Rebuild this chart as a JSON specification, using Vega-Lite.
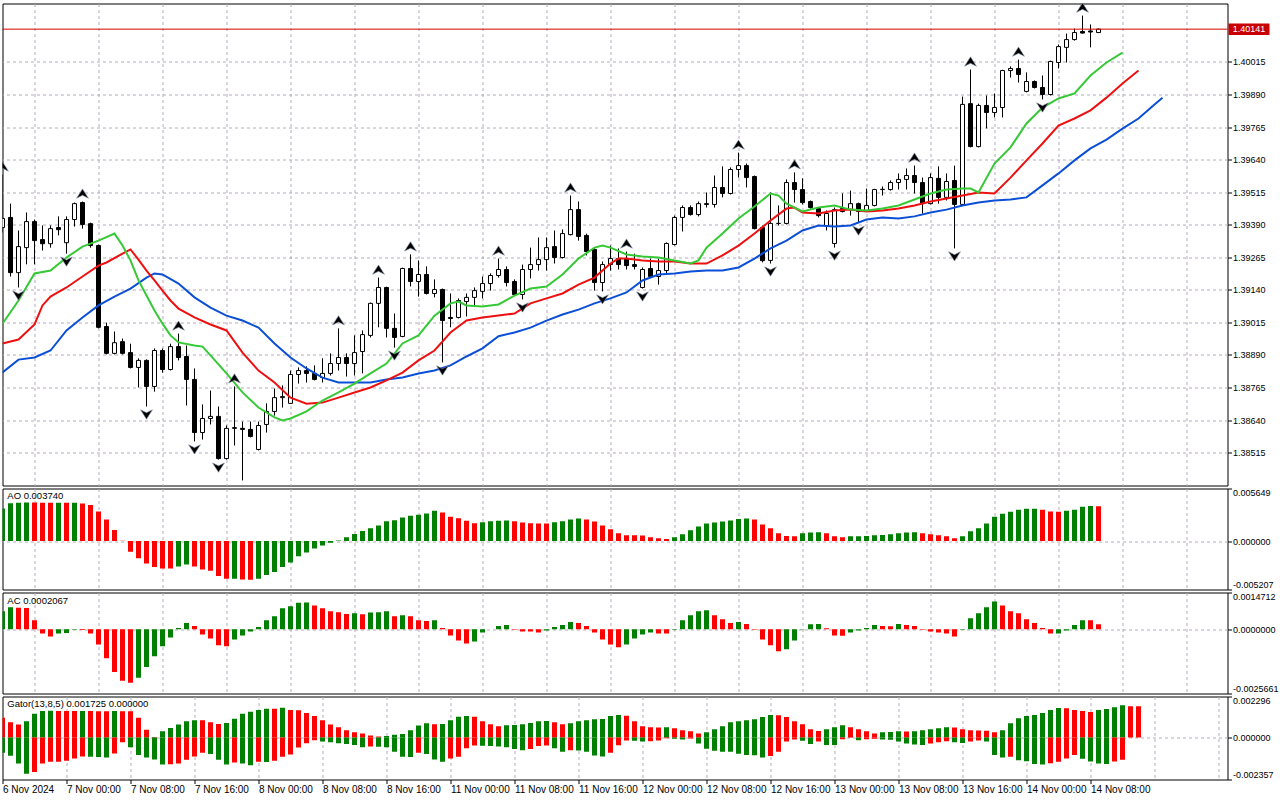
{
  "$schema": "https://vega.github.io/schema/vega-lite/v6.json",
  "background": "white",
  "padding": {"left": 1.5, "top": 2.5, "right": 0, "bottom": 0},
  "spacing": 1,
  "config": {
    "view": {"stroke": "black", "strokeWidth": 1},
    "axis": {
      "labelFont": "Liberation Sans",
      "labelFontSize": 9,
      "labelColor": "black",
      "tickColor": "black",
      "gridColor": "#b4aabe",
      "gridDash": [3, 3],
      "gridWidth": 1,
      "domain": false
    },
    "text": {"font": "Liberation Sans"}
  },
  "datasets": {
    "bars": [
      {"i":0,"o":1.39379,"h":1.39583,"l":1.3936,"c":1.39414,"ao":0.0035,"ac":0.0007205},
      {"i":1,"o":1.39418,"h":1.39471,"l":1.39191,"c":1.39206,"ao":0.00406,"ac":0.0008777},
      {"i":2,"o":1.39206,"h":1.39368,"l":1.39149,"c":1.39306,"ao":0.004113,"ac":0.0008646},
      {"i":3,"o":1.39302,"h":1.39437,"l":1.39238,"c":1.39402,"ao":0.004148,"ac":0.0008515},
      {"i":4,"o":1.39402,"h":1.3941,"l":1.39238,"c":1.39329,"ao":0.004137,"ac":0.0003668},
      {"i":5,"o":1.39333,"h":1.39387,"l":1.39291,"c":1.39317,"ao":0.00413,"ac":-0.0001703},
      {"i":6,"o":1.39317,"h":1.39387,"l":1.39302,"c":1.39375,"ao":0.004116,"ac":-0.0002882},
      {"i":7,"o":1.39379,"h":1.39422,"l":1.39349,"c":1.39371,"ao":0.004127,"ac":-0.0001703},
      {"i":8,"o":1.39321,"h":1.39422,"l":1.39279,"c":1.3941,"ao":0.00412,"ac":-0.0001441},
      {"i":9,"o":1.3941,"h":1.39475,"l":1.39383,"c":1.39471,"ao":0.00413,"ac":-0.0000131},
      {"i":10,"o":1.39475,"h":1.39479,"l":1.39375,"c":1.39391,"ao":0.004025,"ac":-0.0000262},
      {"i":11,"o":1.39394,"h":1.39398,"l":1.39302,"c":1.3931,"ao":0.003885,"ac":-0.0001703},
      {"i":12,"o":1.3931,"h":1.39314,"l":1.38992,"c":1.38996,"ao":0.003185,"ac":-0.0006026},
      {"i":13,"o":1.38999,"h":1.39014,"l":1.38892,"c":1.38896,"ao":0.00231,"ac":-0.0011528},
      {"i":14,"o":1.38896,"h":1.3898,"l":1.38892,"c":1.38937,"ao":0.00119,"ac":-0.001703},
      {"i":15,"o":1.38941,"h":1.38953,"l":1.38892,"c":1.38896,"ao":0.000035,"ac":-0.0020567},
      {"i":16,"o":1.38899,"h":1.38933,"l":1.38838,"c":1.38842,"ao":-0.001155,"ac":-0.0021353},
      {"i":17,"o":1.38842,"h":1.38877,"l":1.38765,"c":1.38869,"ao":-0.001855,"ac":-0.0019388},
      {"i":18,"o":1.38869,"h":1.38873,"l":1.38692,"c":1.38769,"ao":-0.002415,"ac":-0.0015065},
      {"i":19,"o":1.38769,"h":1.38915,"l":1.38749,"c":1.38907,"ao":-0.0028,"ac":-0.0010742},
      {"i":20,"o":1.38907,"h":1.38915,"l":1.38822,"c":1.38834,"ao":-0.00294,"ac":-0.0006812},
      {"i":21,"o":1.38834,"h":1.38933,"l":1.3883,"c":1.38922,"ao":-0.002958,"ac":-0.0003275},
      {"i":22,"o":1.38922,"h":1.38972,"l":1.38869,"c":1.3888,"ao":-0.00273,"ac":0.0000524},
      {"i":23,"o":1.38884,"h":1.38926,"l":1.38696,"c":1.38796,"ao":-0.00252,"ac":0.0002489},
      {"i":24,"o":1.38796,"h":1.38838,"l":1.38558,"c":1.38592,"ao":-0.00273,"ac":0.000131},
      {"i":25,"o":1.38592,"h":1.387,"l":1.38565,"c":1.38646,"ao":-0.003045,"ac":-0.0002096},
      {"i":26,"o":1.38646,"h":1.38753,"l":1.38623,"c":1.38654,"ao":-0.003185,"ac":-0.0003668},
      {"i":27,"o":1.38654,"h":1.38692,"l":1.38488,"c":1.38492,"ao":-0.003745,"ac":-0.0006419},
      {"i":28,"o":1.38492,"h":1.38619,"l":1.38488,"c":1.38608,"ao":-0.00406,"ac":-0.0006812},
      {"i":29,"o":1.38608,"h":1.38769,"l":1.38542,"c":1.38611,"ao":-0.004043,"ac":-0.0004061},
      {"i":30,"o":1.38608,"h":1.38634,"l":1.38408,"c":1.38604,"ao":-0.00413,"ac":-0.0002489},
      {"i":31,"o":1.38604,"h":1.38634,"l":1.38573,"c":1.38577,"ao":-0.004165,"ac":-0.0000917},
      {"i":32,"o":1.38527,"h":1.38634,"l":1.38523,"c":1.38619,"ao":-0.00406,"ac":0.0000917},
      {"i":33,"o":1.38623,"h":1.38704,"l":1.38592,"c":1.38673,"ao":-0.00364,"ac":0.0003668},
      {"i":34,"o":1.38673,"h":1.38761,"l":1.38657,"c":1.38726,"ao":-0.003325,"ac":0.000524},
      {"i":35,"o":1.38726,"h":1.38773,"l":1.38688,"c":1.3873,"ao":-0.0028,"ac":0.0008384},
      {"i":36,"o":1.38704,"h":1.3883,"l":1.38704,"c":1.38815,"ao":-0.00231,"ac":0.000917},
      {"i":37,"o":1.38815,"h":1.38842,"l":1.3878,"c":1.3883,"ao":-0.001645,"ac":0.0010611},
      {"i":38,"o":1.3883,"h":1.38846,"l":1.38784,"c":1.38819,"ao":-0.001225,"ac":0.0010742},
      {"i":39,"o":1.38819,"h":1.3885,"l":1.38792,"c":1.38796,"ao":-0.000805,"ac":0.0009563},
      {"i":40,"o":1.38803,"h":1.38877,"l":1.38784,"c":1.38819,"ao":-0.00049,"ac":0.0008384},
      {"i":41,"o":1.38819,"h":1.38896,"l":1.38811,"c":1.38857,"ao":-0.000175,"ac":0.0007205},
      {"i":42,"o":1.38857,"h":1.38992,"l":1.3883,"c":1.3888,"ao":0.00007,"ac":0.0006812},
      {"i":43,"o":1.3888,"h":1.38896,"l":1.38807,"c":1.38857,"ao":0.00042,"ac":0.0006157},
      {"i":44,"o":1.38857,"h":1.38965,"l":1.38811,"c":1.38899,"ao":0.00077,"ac":0.0006419},
      {"i":45,"o":1.38903,"h":1.38984,"l":1.38819,"c":1.38968,"ao":0.001085,"ac":0.0006026},
      {"i":46,"o":1.38965,"h":1.39091,"l":1.38957,"c":1.39088,"ao":0.001365,"ac":0.0006681},
      {"i":47,"o":1.39088,"h":1.39187,"l":1.38996,"c":1.39149,"ao":0.00168,"ac":0.0006812},
      {"i":48,"o":1.39149,"h":1.39152,"l":1.38957,"c":1.38992,"ao":0.002135,"ac":0.0007205},
      {"i":49,"o":1.38992,"h":1.39049,"l":1.38918,"c":1.38957,"ao":0.00224,"ac":0.000524},
      {"i":50,"o":1.38961,"h":1.39225,"l":1.38958,"c":1.39222,"ao":0.00252,"ac":0.0005633},
      {"i":51,"o":1.39222,"h":1.39276,"l":1.39153,"c":1.39172,"ao":0.00273,"ac":0.000524},
      {"i":52,"o":1.39172,"h":1.39253,"l":1.39114,"c":1.39199,"ao":0.002835,"ac":0.0003668},
      {"i":53,"o":1.39199,"h":1.3923,"l":1.39122,"c":1.39126,"ao":0.002975,"ac":0.0003275},
      {"i":54,"o":1.39126,"h":1.3918,"l":1.39111,"c":1.39141,"ao":0.003255,"ac":0.0003668},
      {"i":55,"o":1.39141,"h":1.39145,"l":1.38861,"c":1.39022,"ao":0.00308,"ac":0.0000524},
      {"i":56,"o":1.39034,"h":1.39126,"l":1.38996,"c":1.3903,"ao":0.002625,"ac":-0.0002489},
      {"i":57,"o":1.39034,"h":1.39107,"l":1.3903,"c":1.39099,"ao":0.00245,"ac":-0.0004454},
      {"i":58,"o":1.39095,"h":1.39126,"l":1.39038,"c":1.39111,"ao":0.00217,"ac":-0.0005633},
      {"i":59,"o":1.39111,"h":1.39149,"l":1.3908,"c":1.39137,"ao":0.001925,"ac":-0.0004847},
      {"i":60,"o":1.39134,"h":1.39191,"l":1.39107,"c":1.39164,"ao":0.00203,"ac":-0.000131},
      {"i":61,"o":1.39164,"h":1.39203,"l":1.39137,"c":1.39195,"ao":0.002135,"ac":0.0000066},
      {"i":62,"o":1.39195,"h":1.3926,"l":1.39187,"c":1.39218,"ao":0.00217,"ac":0.000131},
      {"i":63,"o":1.39218,"h":1.3923,"l":1.39153,"c":1.39168,"ao":0.002205,"ac":0.0001703},
      {"i":64,"o":1.39172,"h":1.3918,"l":1.39118,"c":1.39122,"ao":0.002135,"ac":-0.0000131},
      {"i":65,"o":1.39122,"h":1.39237,"l":1.39103,"c":1.39218,"ao":0.001995,"ac":-0.0000852},
      {"i":66,"o":1.39218,"h":1.39302,"l":1.39184,"c":1.39237,"ao":0.001908,"ac":-0.0000917},
      {"i":67,"o":1.39237,"h":1.39341,"l":1.39214,"c":1.39256,"ao":0.001897,"ac":-0.000131},
      {"i":68,"o":1.39256,"h":1.39341,"l":1.39214,"c":1.39302,"ao":0.00189,"ac":-0.0000524},
      {"i":69,"o":1.39306,"h":1.39368,"l":1.39241,"c":1.39264,"ao":0.00203,"ac":0.0000917},
      {"i":70,"o":1.39264,"h":1.39372,"l":1.3926,"c":1.39356,"ao":0.002135,"ac":0.0001703},
      {"i":71,"o":1.39352,"h":1.39502,"l":1.39349,"c":1.39448,"ao":0.00231,"ac":0.0002882},
      {"i":72,"o":1.39448,"h":1.39479,"l":1.39329,"c":1.39345,"ao":0.002415,"ac":0.0002489},
      {"i":73,"o":1.39349,"h":1.39356,"l":1.39272,"c":1.39287,"ao":0.00231,"ac":0.000131},
      {"i":74,"o":1.39295,"h":1.39302,"l":1.39137,"c":1.39168,"ao":0.0021,"ac":-0.000131},
      {"i":75,"o":1.39168,"h":1.39249,"l":1.39134,"c":1.39237,"ao":0.00168,"ac":-0.0004061},
      {"i":76,"o":1.39237,"h":1.3931,"l":1.39214,"c":1.3926,"ao":0.00126,"ac":-0.0006026},
      {"i":77,"o":1.3926,"h":1.39299,"l":1.39218,"c":1.39237,"ao":0.00084,"ac":-0.0007205},
      {"i":78,"o":1.3926,"h":1.39287,"l":1.39218,"c":1.39233,"ao":0.00063,"ac":-0.0006026},
      {"i":79,"o":1.39237,"h":1.39279,"l":1.39218,"c":1.3923,"ao":0.000616,"ac":-0.0003668},
      {"i":80,"o":1.39149,"h":1.39226,"l":1.39145,"c":1.39218,"ao":0.000595,"ac":-0.0002096},
      {"i":81,"o":1.39222,"h":1.3926,"l":1.39187,"c":1.39191,"ao":0.00042,"ac":-0.000131},
      {"i":82,"o":1.39191,"h":1.3926,"l":1.3916,"c":1.39214,"ao":0.000315,"ac":-0.0001638},
      {"i":83,"o":1.39214,"h":1.39322,"l":1.39203,"c":1.39318,"ao":0.00021,"ac":-0.0001703},
      {"i":84,"o":1.39314,"h":1.39425,"l":1.3931,"c":1.39418,"ao":0.00042,"ac":-0.0000131},
      {"i":85,"o":1.39418,"h":1.39464,"l":1.39364,"c":1.39456,"ao":0.000735,"ac":0.0003668},
      {"i":86,"o":1.39456,"h":1.39464,"l":1.39425,"c":1.39429,"ao":0.001155,"ac":0.0005633},
      {"i":87,"o":1.39429,"h":1.39479,"l":1.39422,"c":1.39471,"ao":0.001575,"ac":0.0007205},
      {"i":88,"o":1.39471,"h":1.39514,"l":1.39456,"c":1.39468,"ao":0.00189,"ac":0.0007598},
      {"i":89,"o":1.39468,"h":1.39579,"l":1.39456,"c":1.39533,"ao":0.001995,"ac":0.0005633},
      {"i":90,"o":1.39533,"h":1.39614,"l":1.39495,"c":1.3951,"ao":0.0021,"ac":0.0004061},
      {"i":91,"o":1.3951,"h":1.3961,"l":1.39506,"c":1.39602,"ao":0.002205,"ac":0.0002489},
      {"i":92,"o":1.39602,"h":1.39667,"l":1.39571,"c":1.39617,"ao":0.00238,"ac":0.0002882},
      {"i":93,"o":1.39617,"h":1.39625,"l":1.39533,"c":1.39571,"ao":0.002415,"ac":0.0002096},
      {"i":94,"o":1.39575,"h":1.39579,"l":1.39372,"c":1.39375,"ao":0.00231,"ac":-0.0000131},
      {"i":95,"o":1.39379,"h":1.39387,"l":1.39245,"c":1.39252,"ao":0.001785,"ac":-0.0004061},
      {"i":96,"o":1.39253,"h":1.39514,"l":1.39241,"c":1.39395,"ao":0.001365,"ac":-0.0006419},
      {"i":97,"o":1.39395,"h":1.39464,"l":1.39387,"c":1.39395,"ao":0.00084,"ac":-0.0008777},
      {"i":98,"o":1.39395,"h":1.39564,"l":1.39391,"c":1.39552,"ao":0.000543,"ac":-0.0007991},
      {"i":99,"o":1.39552,"h":1.39591,"l":1.39475,"c":1.39525,"ao":0.000525,"ac":-0.0004454},
      {"i":100,"o":1.39525,"h":1.39568,"l":1.39468,"c":1.39475,"ao":0.00084,"ac":0.0000131},
      {"i":101,"o":1.39479,"h":1.39483,"l":1.39452,"c":1.39456,"ao":0.000928,"ac":0.0002031},
      {"i":102,"o":1.39452,"h":1.39456,"l":1.39418,"c":1.39425,"ao":0.000945,"ac":0.0002096},
      {"i":103,"o":1.39387,"h":1.39445,"l":1.39368,"c":1.39433,"ao":0.00084,"ac":0.0000393},
      {"i":104,"o":1.39318,"h":1.39456,"l":1.39302,"c":1.39448,"ao":0.000525,"ac":-0.0002489},
      {"i":105,"o":1.39452,"h":1.3951,"l":1.39437,"c":1.39441,"ao":0.00042,"ac":-0.0002555},
      {"i":106,"o":1.39448,"h":1.39521,"l":1.39425,"c":1.39471,"ao":0.000508,"ac":-0.000131},
      {"i":107,"o":1.39471,"h":1.39475,"l":1.39398,"c":1.39441,"ao":0.000525,"ac":-0.0000524},
      {"i":108,"o":1.39445,"h":1.39529,"l":1.39441,"c":1.39464,"ao":0.000543,"ac":0.0000524},
      {"i":109,"o":1.39464,"h":1.39528,"l":1.3946,"c":1.39525,"ao":0.00063,"ac":0.0001703},
      {"i":110,"o":1.39525,"h":1.39537,"l":1.39502,"c":1.39526,"ao":0.000648,"ac":0.000131},
      {"i":111,"o":1.39525,"h":1.3956,"l":1.39521,"c":1.39552,"ao":0.000735,"ac":0.0001245},
      {"i":112,"o":1.39552,"h":1.39587,"l":1.39525,"c":1.39564,"ao":0.00084,"ac":0.0002096},
      {"i":113,"o":1.39564,"h":1.39606,"l":1.39525,"c":1.39579,"ao":0.000928,"ac":0.0001703},
      {"i":114,"o":1.39579,"h":1.39617,"l":1.3951,"c":1.39552,"ao":0.000945,"ac":0.000131},
      {"i":115,"o":1.39552,"h":1.39571,"l":1.39433,"c":1.39471,"ao":0.00084,"ac":-0.0000131},
      {"i":116,"o":1.39471,"h":1.39587,"l":1.39468,"c":1.39571,"ao":0.000735,"ac":-0.0000917},
      {"i":117,"o":1.39568,"h":1.39614,"l":1.39471,"c":1.39495,"ao":0.00063,"ac":-0.000131},
      {"i":118,"o":1.39495,"h":1.39587,"l":1.39483,"c":1.39556,"ao":0.000525,"ac":-0.0001703},
      {"i":119,"o":1.3956,"h":1.39617,"l":1.39299,"c":1.39468,"ao":0.000315,"ac":-0.0002882},
      {"i":120,"o":1.39468,"h":1.39882,"l":1.39464,"c":1.39852,"ao":0.000525,"ac":-0.0000131},
      {"i":121,"o":1.39855,"h":1.39986,"l":1.39687,"c":1.3969,"ao":0.00105,"ac":0.0004454},
      {"i":122,"o":1.3969,"h":1.39855,"l":1.39687,"c":1.39848,"ao":0.001365,"ac":0.0006419},
      {"i":123,"o":1.39848,"h":1.39886,"l":1.3976,"c":1.39821,"ao":0.00189,"ac":0.0008777},
      {"i":124,"o":1.39821,"h":1.39894,"l":1.39802,"c":1.3984,"ao":0.002625,"ac":0.0011135},
      {"i":125,"o":1.3984,"h":1.39985,"l":1.39802,"c":1.39982,"ao":0.00294,"ac":0.0009563},
      {"i":126,"o":1.39982,"h":1.39998,"l":1.39955,"c":1.3999,"ao":0.00315,"ac":0.0007205},
      {"i":127,"o":1.3999,"h":1.40024,"l":1.39936,"c":1.39967,"ao":0.00336,"ac":0.0006419},
      {"i":128,"o":1.39902,"h":1.39975,"l":1.39898,"c":1.3994,"ao":0.003465,"ac":0.0004061},
      {"i":129,"o":1.3994,"h":1.39944,"l":1.39913,"c":1.39917,"ao":0.003483,"ac":0.0002489},
      {"i":130,"o":1.39917,"h":1.39963,"l":1.39871,"c":1.3989,"ao":0.00336,"ac":0.0000524},
      {"i":131,"o":1.3989,"h":1.4002,"l":1.39886,"c":1.40017,"ao":0.003168,"ac":-0.0001703},
      {"i":132,"o":1.40013,"h":1.40082,"l":1.3999,"c":1.40074,"ao":0.00315,"ac":-0.0001638},
      {"i":133,"o":1.40071,"h":1.40124,"l":1.40013,"c":1.40101,"ao":0.003255,"ac":-0.0000524},
      {"i":134,"o":1.40101,"h":1.40143,"l":1.40097,"c":1.40128,"ao":0.00336,"ac":0.0001703},
      {"i":135,"o":1.40132,"h":1.40193,"l":1.40124,"c":1.40126,"ao":0.003675,"ac":0.0003668},
      {"i":136,"o":1.40134,"h":1.40159,"l":1.40071,"c":1.4013,"ao":0.00378,"ac":0.0003603},
      {"i":137,"o":1.40128,"h":1.40143,"l":1.40126,"c":1.40141,"ao":0.00374,"ac":0.0002067}
    ],
    "gator": [
      {"i":0,"up":0.001102,"lo":-0.000855},{"i":1,"up":0.000855,"lo":-0.001026},{"i":2,"up":0.000722,"lo":-0.001463},
      {"i":3,"up":0.000912,"lo":-0.002033},{"i":4,"up":0.00133,"lo":-0.001938},{"i":5,"up":0.001482,"lo":-0.001463},
      {"i":6,"up":0.001492,"lo":-0.001368},{"i":7,"up":0.001486,"lo":-0.001359},{"i":8,"up":0.001482,"lo":-0.001311},
      {"i":9,"up":0.001478,"lo":-0.001178},{"i":10,"up":0.001484,"lo":-0.001064},{"i":11,"up":0.00148,"lo":-0.001083},
      {"i":12,"up":0.001476,"lo":-0.001093},{"i":13,"up":0.001473,"lo":-0.001121},{"i":14,"up":0.001478,"lo":-0.000893},
      {"i":15,"up":0.001474,"lo":-0.000266},{"i":16,"up":0.001471,"lo":-0.000551},{"i":17,"up":0.001102,"lo":-0.000988},
      {"i":18,"up":0.000437,"lo":-0.001121},{"i":19,"up":0.000019,"lo":-0.001235},{"i":20,"up":0.000342,"lo":-0.00152},
      {"i":21,"up":0.000532,"lo":-0.001501},{"i":22,"up":0.000722,"lo":-0.001463},{"i":23,"up":0.000912,"lo":-0.001254},
      {"i":24,"up":0.000969,"lo":-0.001064},{"i":25,"up":0.00096,"lo":-0.000855},{"i":26,"up":0.000855,"lo":-0.000931},
      {"i":27,"up":0.00076,"lo":-0.001254},{"i":28,"up":0.000817,"lo":-0.00152},{"i":29,"up":0.001045,"lo":-0.001406},
      {"i":30,"up":0.00133,"lo":-0.001463},{"i":31,"up":0.001444,"lo":-0.001558},{"i":32,"up":0.001539,"lo":-0.001368},
      {"i":33,"up":0.001615,"lo":-0.001378},{"i":34,"up":0.001606,"lo":-0.001311},{"i":35,"up":0.001672,"lo":-0.001083},
      {"i":36,"up":0.001539,"lo":-0.00095},{"i":37,"up":0.00153,"lo":-0.00057},{"i":38,"up":0.001368,"lo":-0.000323},
      {"i":39,"up":0.001197,"lo":-0.000152},{"i":40,"up":0.000969,"lo":-0.000228},{"i":41,"up":0.000722,"lo":-0.000266},
      {"i":42,"up":0.00057,"lo":-0.000323},{"i":43,"up":0.000399,"lo":-0.000361},{"i":44,"up":0.000285,"lo":-0.000418},
      {"i":45,"up":0.000228,"lo":-0.000551},{"i":46,"up":0.000114,"lo":-0.000513},{"i":47,"up":0.000057,"lo":-0.000523},
      {"i":48,"up":0.000076,"lo":-0.000551},{"i":49,"up":0.000152,"lo":-0.000798},{"i":50,"up":0.00019,"lo":-0.001083},
      {"i":51,"up":0.000399,"lo":-0.001102},{"i":52,"up":0.000665,"lo":-0.000855},{"i":53,"up":0.000798,"lo":-0.000931},
      {"i":54,"up":0.000741,"lo":-0.001235},{"i":55,"up":0.000751,"lo":-0.001368},{"i":56,"up":0.000969,"lo":-0.001178},
      {"i":57,"up":0.001159,"lo":-0.001083},{"i":58,"up":0.001197,"lo":-0.000608},{"i":59,"up":0.001159,"lo":-0.000456},
      {"i":60,"up":0.000912,"lo":-0.000466},{"i":61,"up":0.000741,"lo":-0.000475},{"i":62,"up":0.000627,"lo":-0.000513},
      {"i":63,"up":0.000684,"lo":-0.000551},{"i":64,"up":0.000703,"lo":-0.000646},{"i":65,"up":0.000741,"lo":-0.000722},
      {"i":66,"up":0.000817,"lo":-0.000646},{"i":67,"up":0.000912,"lo":-0.000475},{"i":68,"up":0.000922,"lo":-0.000456},
      {"i":69,"up":0.000855,"lo":-0.000608},{"i":70,"up":0.000741,"lo":-0.000798},{"i":71,"up":0.000798,"lo":-0.000722},
      {"i":72,"up":0.000912,"lo":-0.000732},{"i":73,"up":0.000969,"lo":-0.000798},{"i":74,"up":0.001026,"lo":-0.001007},
      {"i":75,"up":0.001036,"lo":-0.001064},{"i":76,"up":0.001197,"lo":-0.000855},{"i":77,"up":0.001254,"lo":-0.000437},
      {"i":78,"up":0.001216,"lo":-0.000171},{"i":79,"up":0.000912,"lo":-0.000181},{"i":80,"up":0.000627,"lo":-0.000228},
      {"i":81,"up":0.00057,"lo":-0.000219},{"i":82,"up":0.000561,"lo":-0.000171},{"i":83,"up":0.00057,"lo":-0.000038},
      {"i":84,"up":0.000513,"lo":-0.000076},{"i":85,"up":0.000399,"lo":-0.000114},{"i":86,"up":0.000342,"lo":-0.000057},
      {"i":87,"up":0.000228,"lo":-0.000342},{"i":88,"up":0.000285,"lo":-0.000627},{"i":89,"up":0.000456,"lo":-0.000741},
      {"i":90,"up":0.000627,"lo":-0.000798},{"i":91,"up":0.000855,"lo":-0.000808},{"i":92,"up":0.000912,"lo":-0.000912},
      {"i":93,"up":0.000969,"lo":-0.000988},{"i":94,"up":0.001026,"lo":-0.000998},{"i":95,"up":0.00114,"lo":-0.001121},
      {"i":96,"up":0.001254,"lo":-0.001045},{"i":97,"up":0.001245,"lo":-0.000798},{"i":98,"up":0.00114,"lo":-0.000228},
      {"i":99,"up":0.000912,"lo":-0.000114},{"i":100,"up":0.000741,"lo":-0.00019},{"i":101,"up":0.000456,"lo":-0.000361},
      {"i":102,"up":0.000361,"lo":-0.000228},{"i":103,"up":0.000456,"lo":-0.000418},{"i":104,"up":0.00057,"lo":-0.000428},
      {"i":105,"up":0.000684,"lo":-0.000095},{"i":106,"up":0.00057,"lo":-0.000019},{"i":107,"up":0.000456,"lo":-0.000152},
      {"i":108,"up":0.000342,"lo":-0.000095},{"i":109,"up":0.000228,"lo":-0.000076},{"i":110,"up":0.000285,"lo":-0.000114},
      {"i":111,"up":0.000304,"lo":-0.000133},{"i":112,"up":0.000342,"lo":-0.000228},{"i":113,"up":0.000333,"lo":-0.000342},
      {"i":114,"up":0.000342,"lo":-0.000399},{"i":115,"up":0.000399,"lo":-0.000418},{"i":116,"up":0.000456,"lo":-0.000342},
      {"i":117,"up":0.000513,"lo":-0.000266},{"i":118,"up":0.00057,"lo":-0.000209},{"i":119,"up":0.000561,"lo":-0.000266},
      {"i":120,"up":0.000456,"lo":-0.000304},{"i":121,"up":0.000399,"lo":-0.000228},{"i":122,"up":0.00039,"lo":-0.000171},
      {"i":123,"up":0.00038,"lo":-0.000228},{"i":124,"up":0.000285,"lo":-0.000988},{"i":125,"up":0.000399,"lo":-0.001121},
      {"i":126,"up":0.000798,"lo":-0.001083},{"i":127,"up":0.001083,"lo":-0.001273},{"i":128,"up":0.001197,"lo":-0.00133},
      {"i":129,"up":0.001254,"lo":-0.001482},{"i":130,"up":0.001368,"lo":-0.00152},{"i":131,"up":0.001539,"lo":-0.001444},
      {"i":132,"up":0.001653,"lo":-0.001368},{"i":133,"up":0.001644,"lo":-0.001178},{"i":134,"up":0.001539,"lo":-0.000988},
      {"i":135,"up":0.001482,"lo":-0.001197},{"i":136,"up":0.001425,"lo":-0.001349},{"i":137,"up":0.001539,"lo":-0.001463},
      {"i":138,"up":0.001596,"lo":-0.001482},{"i":139,"up":0.001691,"lo":-0.001349},{"i":140,"up":0.001805,"lo":-0.001254},
      {"i":141,"up":0.001748},{"i":142,"up":0.001744}
    ],
    "alligator": [
      {"i":0,"s":"Jaw","v":1.38823},{"i":2,"s":"Jaw","v":1.38872},{"i":4,"s":"Jaw","v":1.3888},{"i":6,"s":"Jaw","v":1.38907},
      {"i":8,"s":"Jaw","v":1.38984},{"i":10,"s":"Jaw","v":1.39034},{"i":12,"s":"Jaw","v":1.3908},{"i":14,"s":"Jaw","v":1.39114},
      {"i":16,"s":"Jaw","v":1.39145},{"i":18,"s":"Jaw","v":1.39187},{"i":19,"s":"Jaw","v":1.39203},{"i":20,"s":"Jaw","v":1.39199},
      {"i":22,"s":"Jaw","v":1.39164},{"i":24,"s":"Jaw","v":1.39111},{"i":26,"s":"Jaw","v":1.39072},{"i":28,"s":"Jaw","v":1.39041},
      {"i":30,"s":"Jaw","v":1.39022},{"i":32,"s":"Jaw","v":1.38995},{"i":34,"s":"Jaw","v":1.38934},{"i":36,"s":"Jaw","v":1.3888},
      {"i":38,"s":"Jaw","v":1.38838},{"i":40,"s":"Jaw","v":1.38803},{"i":42,"s":"Jaw","v":1.38784},{"i":44,"s":"Jaw","v":1.38784},
      {"i":46,"s":"Jaw","v":1.38784},{"i":48,"s":"Jaw","v":1.38796},{"i":50,"s":"Jaw","v":1.38803},{"i":52,"s":"Jaw","v":1.38819},
      {"i":54,"s":"Jaw","v":1.3883},{"i":56,"s":"Jaw","v":1.3885},{"i":58,"s":"Jaw","v":1.38884},{"i":60,"s":"Jaw","v":1.38915},
      {"i":62,"s":"Jaw","v":1.38962},{"i":64,"s":"Jaw","v":1.38976},{"i":66,"s":"Jaw","v":1.38995},{"i":68,"s":"Jaw","v":1.39022},
      {"i":70,"s":"Jaw","v":1.39045},{"i":72,"s":"Jaw","v":1.39064},{"i":74,"s":"Jaw","v":1.39088},{"i":76,"s":"Jaw","v":1.39107},
      {"i":78,"s":"Jaw","v":1.3913},{"i":80,"s":"Jaw","v":1.39176},{"i":82,"s":"Jaw","v":1.39199},{"i":84,"s":"Jaw","v":1.39203},
      {"i":86,"s":"Jaw","v":1.3921},{"i":88,"s":"Jaw","v":1.39214},{"i":90,"s":"Jaw","v":1.39214},{"i":92,"s":"Jaw","v":1.39226},
      {"i":94,"s":"Jaw","v":1.3926},{"i":96,"s":"Jaw","v":1.39299},{"i":98,"s":"Jaw","v":1.39329},{"i":100,"s":"Jaw","v":1.39368},
      {"i":102,"s":"Jaw","v":1.39387},{"i":104,"s":"Jaw","v":1.39383},{"i":106,"s":"Jaw","v":1.39387},{"i":108,"s":"Jaw","v":1.3941},
      {"i":110,"s":"Jaw","v":1.39418},{"i":112,"s":"Jaw","v":1.39414},{"i":114,"s":"Jaw","v":1.39422},{"i":116,"s":"Jaw","v":1.39437},
      {"i":118,"s":"Jaw","v":1.39448},{"i":120,"s":"Jaw","v":1.39464},{"i":122,"s":"Jaw","v":1.39475},{"i":124,"s":"Jaw","v":1.39483},
      {"i":126,"s":"Jaw","v":1.39487},{"i":128,"s":"Jaw","v":1.39495},{"i":130,"s":"Jaw","v":1.39541},{"i":132,"s":"Jaw","v":1.39587},
      {"i":134,"s":"Jaw","v":1.39637},{"i":136,"s":"Jaw","v":1.39683},{"i":138,"s":"Jaw","v":1.39717},{"i":140,"s":"Jaw","v":1.39759},
      {"i":142,"s":"Jaw","v":1.39798},{"i":144,"s":"Jaw","v":1.39852},{"i":145,"s":"Jaw","v":1.39878},
      {"i":0,"s":"Teeth","v":1.38934},{"i":2,"s":"Teeth","v":1.38949},{"i":4,"s":"Teeth","v":1.39007},{"i":5,"s":"Teeth","v":1.3908},
      {"i":6,"s":"Teeth","v":1.39114},{"i":8,"s":"Teeth","v":1.39149},{"i":10,"s":"Teeth","v":1.39191},{"i":12,"s":"Teeth","v":1.39233},
      {"i":13,"s":"Teeth","v":1.39245},{"i":15,"s":"Teeth","v":1.39279},{"i":16,"s":"Teeth","v":1.39295},{"i":17,"s":"Teeth","v":1.39256},
      {"i":18,"s":"Teeth","v":1.39214},{"i":19,"s":"Teeth","v":1.39176},{"i":20,"s":"Teeth","v":1.39137},{"i":21,"s":"Teeth","v":1.39099},
      {"i":22,"s":"Teeth","v":1.39068},{"i":24,"s":"Teeth","v":1.39034},{"i":26,"s":"Teeth","v":1.39007},{"i":28,"s":"Teeth","v":1.38984},
      {"i":30,"s":"Teeth","v":1.38899},{"i":32,"s":"Teeth","v":1.3883},{"i":34,"s":"Teeth","v":1.38784},{"i":36,"s":"Teeth","v":1.38726},
      {"i":38,"s":"Teeth","v":1.38703},{"i":40,"s":"Teeth","v":1.38707},{"i":42,"s":"Teeth","v":1.38726},{"i":44,"s":"Teeth","v":1.38746},
      {"i":46,"s":"Teeth","v":1.38765},{"i":48,"s":"Teeth","v":1.38792},{"i":50,"s":"Teeth","v":1.38822},{"i":52,"s":"Teeth","v":1.38869},
      {"i":54,"s":"Teeth","v":1.38907},{"i":56,"s":"Teeth","v":1.38976},{"i":58,"s":"Teeth","v":1.39022},{"i":60,"s":"Teeth","v":1.39034},
      {"i":62,"s":"Teeth","v":1.39041},{"i":64,"s":"Teeth","v":1.39049},{"i":66,"s":"Teeth","v":1.39088},{"i":68,"s":"Teeth","v":1.39107},
      {"i":70,"s":"Teeth","v":1.39126},{"i":72,"s":"Teeth","v":1.3916},{"i":74,"s":"Teeth","v":1.39187},{"i":75,"s":"Teeth","v":1.39214},
      {"i":76,"s":"Teeth","v":1.39241},{"i":77,"s":"Teeth","v":1.3926},{"i":78,"s":"Teeth","v":1.3926},{"i":80,"s":"Teeth","v":1.39253},
      {"i":82,"s":"Teeth","v":1.39249},{"i":84,"s":"Teeth","v":1.39249},{"i":86,"s":"Teeth","v":1.39241},{"i":88,"s":"Teeth","v":1.39241},
      {"i":90,"s":"Teeth","v":1.39272},{"i":92,"s":"Teeth","v":1.3931},{"i":94,"s":"Teeth","v":1.39356},{"i":96,"s":"Teeth","v":1.39406},
      {"i":98,"s":"Teeth","v":1.39452},{"i":99,"s":"Teeth","v":1.39456},{"i":100,"s":"Teeth","v":1.39437},{"i":102,"s":"Teeth","v":1.39433},
      {"i":104,"s":"Teeth","v":1.39445},{"i":106,"s":"Teeth","v":1.39448},{"i":108,"s":"Teeth","v":1.39441},{"i":110,"s":"Teeth","v":1.39445},
      {"i":112,"s":"Teeth","v":1.39452},{"i":114,"s":"Teeth","v":1.39464},{"i":116,"s":"Teeth","v":1.39479},{"i":118,"s":"Teeth","v":1.39491},
      {"i":120,"s":"Teeth","v":1.39502},{"i":122,"s":"Teeth","v":1.39514},{"i":124,"s":"Teeth","v":1.3951},{"i":126,"s":"Teeth","v":1.39571},
      {"i":128,"s":"Teeth","v":1.39637},{"i":130,"s":"Teeth","v":1.39702},{"i":132,"s":"Teeth","v":1.39771},{"i":134,"s":"Teeth","v":1.39798},
      {"i":136,"s":"Teeth","v":1.39829},{"i":138,"s":"Teeth","v":1.39878},{"i":140,"s":"Teeth","v":1.39932},{"i":142,"s":"Teeth","v":1.39982},
      {"i":0,"s":"Lips","v":1.3901},{"i":2,"s":"Lips","v":1.39099},{"i":4,"s":"Lips","v":1.39203},{"i":6,"s":"Lips","v":1.39214},
      {"i":8,"s":"Lips","v":1.39264},{"i":10,"s":"Lips","v":1.39306},{"i":12,"s":"Lips","v":1.39329},{"i":14,"s":"Lips","v":1.39356},
      {"i":15,"s":"Lips","v":1.3931},{"i":16,"s":"Lips","v":1.39253},{"i":17,"s":"Lips","v":1.39176},{"i":18,"s":"Lips","v":1.39118},
      {"i":19,"s":"Lips","v":1.39061},{"i":20,"s":"Lips","v":1.3901},{"i":21,"s":"Lips","v":1.38965},{"i":22,"s":"Lips","v":1.38938},
      {"i":24,"s":"Lips","v":1.38926},{"i":25,"s":"Lips","v":1.38922},{"i":26,"s":"Lips","v":1.38888},{"i":28,"s":"Lips","v":1.38819},
      {"i":30,"s":"Lips","v":1.38746},{"i":32,"s":"Lips","v":1.38688},{"i":34,"s":"Lips","v":1.3865},{"i":35,"s":"Lips","v":1.38638},
      {"i":36,"s":"Lips","v":1.38646},{"i":38,"s":"Lips","v":1.38673},{"i":40,"s":"Lips","v":1.38715},{"i":42,"s":"Lips","v":1.38746},
      {"i":44,"s":"Lips","v":1.3878},{"i":46,"s":"Lips","v":1.38819},{"i":48,"s":"Lips","v":1.38857},{"i":50,"s":"Lips","v":1.38934},
      {"i":52,"s":"Lips","v":1.38965},{"i":54,"s":"Lips","v":1.39041},{"i":56,"s":"Lips","v":1.39088},{"i":57,"s":"Lips","v":1.39095},
      {"i":58,"s":"Lips","v":1.3908},{"i":60,"s":"Lips","v":1.39076},{"i":62,"s":"Lips","v":1.39084},{"i":64,"s":"Lips","v":1.39118},
      {"i":66,"s":"Lips","v":1.39145},{"i":68,"s":"Lips","v":1.39153},{"i":70,"s":"Lips","v":1.39199},{"i":72,"s":"Lips","v":1.3926},
      {"i":74,"s":"Lips","v":1.39302},{"i":75,"s":"Lips","v":1.3931},{"i":76,"s":"Lips","v":1.39302},{"i":78,"s":"Lips","v":1.39276},
      {"i":80,"s":"Lips","v":1.39268},{"i":82,"s":"Lips","v":1.39264},{"i":84,"s":"Lips","v":1.39253},{"i":86,"s":"Lips","v":1.39241},
      {"i":87,"s":"Lips","v":1.39253},{"i":88,"s":"Lips","v":1.39302},{"i":90,"s":"Lips","v":1.39356},{"i":92,"s":"Lips","v":1.39414},
      {"i":94,"s":"Lips","v":1.3946},{"i":96,"s":"Lips","v":1.3951},{"i":97,"s":"Lips","v":1.39502},{"i":98,"s":"Lips","v":1.39471},
      {"i":100,"s":"Lips","v":1.39441},{"i":102,"s":"Lips","v":1.39456},{"i":104,"s":"Lips","v":1.39464},{"i":106,"s":"Lips","v":1.39448},
      {"i":108,"s":"Lips","v":1.39445},{"i":110,"s":"Lips","v":1.39452},{"i":112,"s":"Lips","v":1.39464},{"i":114,"s":"Lips","v":1.39487},
      {"i":116,"s":"Lips","v":1.3951},{"i":118,"s":"Lips","v":1.39525},{"i":120,"s":"Lips","v":1.39529},{"i":121,"s":"Lips","v":1.39529},
      {"i":122,"s":"Lips","v":1.39514},{"i":124,"s":"Lips","v":1.39625},{"i":126,"s":"Lips","v":1.39687},{"i":128,"s":"Lips","v":1.39779},
      {"i":130,"s":"Lips","v":1.3984},{"i":132,"s":"Lips","v":1.39875},{"i":134,"s":"Lips","v":1.39894},{"i":136,"s":"Lips","v":1.39963},
      {"i":138,"s":"Lips","v":1.40013},{"i":140,"s":"Lips","v":1.40051}
    ],
    "fractals": [
      {"i":0,"t":"up","v":1.39583},{"i":10,"t":"up","v":1.39479},{"i":22,"t":"up","v":1.38972},{"i":29,"t":"up","v":1.38769},
      {"i":42,"t":"up","v":1.38992},{"i":47,"t":"up","v":1.39187},{"i":51,"t":"up","v":1.39276},{"i":62,"t":"up","v":1.3926},
      {"i":71,"t":"up","v":1.39502},{"i":78,"t":"up","v":1.39287},{"i":92,"t":"up","v":1.39667},{"i":99,"t":"up","v":1.39591},
      {"i":114,"t":"up","v":1.39617},{"i":121,"t":"up","v":1.39986},{"i":127,"t":"up","v":1.40024},{"i":135,"t":"up","v":1.40193},
      {"i":2,"t":"down","v":1.39149},{"i":8,"t":"down","v":1.39279},{"i":18,"t":"down","v":1.38692},{"i":24,"t":"down","v":1.38558},
      {"i":27,"t":"down","v":1.38488},{"i":49,"t":"down","v":1.38918},{"i":55,"t":"down","v":1.38861},
      {"i":65,"t":"down","v":1.39103},{"i":75,"t":"down","v":1.39134},{"i":80,"t":"down","v":1.39145},{"i":96,"t":"down","v":1.39241},
      {"i":104,"t":"down","v":1.39302},{"i":107,"t":"down","v":1.39398},{"i":119,"t":"down","v":1.39299},{"i":130,"t":"down","v":1.39871}
    ]
  },
  "vconcat": [
    {
      "width": 1225,
      "height": 482,
      "layer": [
        {
          "data": {"name": "bars"},
          "mark": {"type": "rule", "color": "black", "strokeWidth": 1, "clip": true},
          "encoding": {
            "x": {"field": "i", "type": "quantitative", "title": null,
              "scale": {"domain": [0, 153.125], "nice": false, "zero": false, "padding": 0},
              "axis": {"values": [4,8,12,16,20,24,28,32,36,40,44,48,52,56,60,64,68,72,76,80,84,88,92,96,100,104,108,112,116,120,124,128,132,136,140,144,148,152],
                "grid": true, "labels": false, "ticks": false, "domain": false, "title": null}},
            "y": {"field": "l", "type": "quantitative", "title": null,
              "scale": {"domain": [1.383886, 1.402395], "nice": false, "zero": false, "padding": 0},
              "axis": {"orient": "right", "values": [1.38515,1.3864,1.38765,1.3889,1.39015,1.3914,1.39265,1.3939,1.39515,1.3964,1.39765,1.3989,1.40015],
                "format": ".5f", "grid": true, "tickSize": 4, "labelPadding": 1, "labelFlush": false, "labelOverlap": false, "title": null}},
            "y2": {"field": "h"}
          }
        },
        {
          "data": {"name": "bars"},
          "mark": {"type": "bar", "size": 4, "stroke": "black", "strokeWidth": 1, "clip": true},
          "encoding": {
            "x": {"field": "i", "type": "quantitative", "title": null},
            "y": {"field": "o", "type": "quantitative", "title": null},
            "y2": {"field": "c"},
            "fill": {"condition": {"test": "datum.c >= datum.o", "value": "white"}, "value": "black"}
          }
        },
        {
          "data": {"name": "alligator"},
          "mark": {"type": "line", "strokeWidth": 2, "clip": true},
          "encoding": {
            "x": {"field": "i", "type": "quantitative", "title": null},
            "y": {"field": "v", "type": "quantitative", "title": null},
            "color": {"field": "s", "type": "nominal", "legend": null,
              "scale": {"domain": ["Jaw", "Teeth", "Lips"], "range": ["#0b4fd6", "#ee1010", "#36c936"]}}
          }
        },
        {
          "data": {"name": "fractals"},
          "transform": [{"filter": "datum.t == 'up'"}],
          "mark": {"type": "point", "shape": "M0,-0.75L0.95,0.75L0,0.28L-0.95,0.75Z", "filled": true, "color": "black", "stroke": "#7f8fa6", "strokeWidth": 0.6, "opacity": 1, "size": 155, "yOffset": -8, "clip": true},
          "encoding": {
            "x": {"field": "i", "type": "quantitative", "title": null},
            "y": {"field": "v", "type": "quantitative", "title": null}
          }
        },
        {
          "data": {"name": "fractals"},
          "transform": [{"filter": "datum.t == 'down'"}],
          "mark": {"type": "point", "shape": "M0,0.75L0.95,-0.75L0,-0.28L-0.95,-0.75Z", "filled": true, "color": "black", "stroke": "#7f8fa6", "strokeWidth": 0.6, "opacity": 1, "size": 155, "yOffset": 8, "clip": true},
          "encoding": {
            "x": {"field": "i", "type": "quantitative", "title": null},
            "y": {"field": "v", "type": "quantitative", "title": null}
          }
        },
        {
          "data": {"values": [{"price": 1.40141}]},
          "mark": {"type": "rule", "color": "#d40000", "strokeWidth": 1},
          "encoding": {
            "y": {"field": "price", "type": "quantitative", "title": null}
          }
        },
        {
          "data": {"values": [{"price": 1.40141}]},
          "mark": {"type": "rect", "color": "#c80000", "clip": false},
          "encoding": {
            "x": {"datum": 153.25, "type": "quantitative"},
            "x2": {"datum": 158.375},
            "y": {"datum": 1.40163, "type": "quantitative"},
            "y2": {"datum": 1.40119}
          }
        },
        {
          "data": {"values": [{"price": 1.40141}]},
          "mark": {"type": "text", "color": "white", "fontSize": 9, "align": "center", "baseline": "middle", "clip": false},
          "encoding": {
            "x": {"datum": 155.81, "type": "quantitative"},
            "y": {"field": "price", "type": "quantitative", "title": null},
            "text": {"field": "price", "type": "quantitative", "format": ".5f"}
          }
        }
      ]
    },
    {
      "width": 1225,
      "height": 101,
      "layer": [
        {
          "data": {"name": "bars"},
          "transform": [{"window": [{"op": "lag", "field": "ao", "as": "aoPrev"}], "sort": [{"field": "i", "order": "ascending"}]}],
          "mark": {"type": "bar", "size": 5, "clip": true},
          "encoding": {
            "x": {"field": "i", "type": "quantitative", "title": null,
              "scale": {"domain": [0, 153.125], "nice": false, "zero": false, "padding": 0},
              "axis": {"values": [4,8,12,16,20,24,28,32,36,40,44,48,52,56,60,64,68,72,76,80,84,88,92,96,100,104,108,112,116,120,124,128,132,136,140,144,148,152],
                "grid": true, "labels": false, "ticks": false, "domain": false, "title": null}},
            "y": {"field": "ao", "type": "quantitative", "title": null,
              "scale": {"domain": [-0.005207, 0.005649], "nice": false, "zero": false, "padding": 0},
              "axis": {"orient": "right", "values": [-0.005207, 0, 0.005649],
                "labelExpr": "replace(format(datum.value, '.6f'), '\u2212', '-')",
                "grid": true, "gridOpacity": {"condition": {"test": "datum.value === 0", "value": 1}, "value": 0},
                "tickSize": 4, "labelPadding": 1, "labelFlush": true, "labelFlushOffset": 0, "labelOverlap": false, "title": null}},
            "y2": {"datum": 0},
            "color": {"condition": {"test": "datum.aoPrev == null || datum.ao > datum.aoPrev", "value": "#008000"}, "value": "#ff0000"}
          }
        },
        {
          "data": {"values": [{"label": "AO 0.003740"}]},
          "mark": {"type": "text", "align": "left", "baseline": "top", "dy": 2, "fontSize": 9.5, "color": "black"},
          "encoding": {
            "x": {"datum": 0.6, "type": "quantitative"},
            "y": {"datum": 0.005649, "type": "quantitative"},
            "text": {"field": "label"}
          }
        }
      ]
    },
    {
      "width": 1225,
      "height": 101,
      "layer": [
        {
          "data": {"name": "bars"},
          "transform": [{"window": [{"op": "lag", "field": "ac", "as": "acPrev"}], "sort": [{"field": "i", "order": "ascending"}]}],
          "mark": {"type": "bar", "size": 5, "clip": true},
          "encoding": {
            "x": {"field": "i", "type": "quantitative", "title": null,
              "scale": {"domain": [0, 153.125], "nice": false, "zero": false, "padding": 0},
              "axis": {"values": [4,8,12,16,20,24,28,32,36,40,44,48,52,56,60,64,68,72,76,80,84,88,92,96,100,104,108,112,116,120,124,128,132,136,140,144,148,152],
                "grid": true, "labels": false, "ticks": false, "domain": false, "title": null}},
            "y": {"field": "ac", "type": "quantitative", "title": null,
              "scale": {"domain": [-0.0025661, 0.0014712], "nice": false, "zero": false, "padding": 0},
              "axis": {"orient": "right", "values": [-0.0025661, 0, 0.0014712],
                "labelExpr": "replace(format(datum.value, '.7f'), '\u2212', '-')",
                "grid": true, "gridOpacity": {"condition": {"test": "datum.value === 0", "value": 1}, "value": 0},
                "tickSize": 4, "labelPadding": 1, "labelFlush": true, "labelFlushOffset": 0, "labelOverlap": false, "title": null}},
            "y2": {"datum": 0},
            "color": {"condition": {"test": "datum.acPrev == null || datum.ac > datum.acPrev", "value": "#008000"}, "value": "#ff0000"}
          }
        },
        {
          "data": {"values": [{"label": "AC 0.0002067"}]},
          "mark": {"type": "text", "align": "left", "baseline": "top", "dy": 3, "fontSize": 9.5, "color": "black"},
          "encoding": {
            "x": {"datum": 0.6, "type": "quantitative"},
            "y": {"datum": 0.0014712, "type": "quantitative"},
            "text": {"field": "label"}
          }
        }
      ]
    },
    {
      "width": 1225,
      "height": 83,
      "layer": [
        {
          "data": {"name": "gator"},
          "transform": [{"window": [{"op": "lag", "field": "up", "as": "upPrev"}], "sort": [{"field": "i", "order": "ascending"}]}],
          "mark": {"type": "bar", "size": 5, "clip": true},
          "encoding": {
            "x": {"field": "i", "type": "quantitative", "title": null,
              "scale": {"domain": [0, 153.125], "nice": false, "zero": false, "padding": 0},
              "axis": {"values": [0,4,8,12,16,20,24,28,32,36,40,44,48,52,56,60,64,68,72,76,80,84,88,92,96,100,104,108,112,116,120,124,128,132,136,140,144,148,152],
                "grid": true, "gridOpacity": {"condition": {"test": "datum.value > 0", "value": 1}, "value": 0},
                "ticks": true, "tickSize": 4, "tickOpacity": {"condition": {"test": "datum.value % 8 === 0 && datum.value <= 136", "value": 1}, "value": 0},
                "labelExpr": "datum.value % 8 === 0 && datum.value <= 136 ? ['6 Nov 2024','7 Nov 00:00','7 Nov 08:00','7 Nov 16:00','8 Nov 00:00','8 Nov 08:00','8 Nov 16:00','11 Nov 00:00','11 Nov 08:00','11 Nov 16:00','12 Nov 00:00','12 Nov 08:00','12 Nov 16:00','13 Nov 00:00','13 Nov 08:00','13 Nov 16:00','14 Nov 00:00','14 Nov 08:00'][datum.value / 8] : ''",
                "labelAlign": "left", "labelBaseline": "top", "labelPadding": 1, "labelFontSize": 10,
                "labelFlush": false, "labelOverlap": false, "labelBound": false, "domain": false, "title": null}},
            "y": {"field": "up", "type": "quantitative", "title": null,
              "scale": {"domain": [-0.002357, 0.002296], "nice": false, "zero": false, "padding": 0},
              "axis": {"orient": "right", "values": [-0.002357, 0, 0.002296],
                "labelExpr": "replace(format(datum.value, '.6f'), '\u2212', '-')",
                "grid": true, "gridOpacity": {"condition": {"test": "datum.value === 0", "value": 1}, "value": 0},
                "tickSize": 4, "labelPadding": 1, "labelFlush": true, "labelFlushOffset": 0, "labelOverlap": false, "title": null}},
            "y2": {"datum": 0},
            "color": {"condition": {"test": "datum.upPrev != null && datum.up > datum.upPrev", "value": "#008000"}, "value": "#ff0000"}
          }
        },
        {
          "data": {"name": "gator"},
          "transform": [
            {"filter": "isValid(datum.lo)"},
            {"window": [{"op": "lag", "field": "lo", "as": "loPrev"}], "sort": [{"field": "i", "order": "ascending"}]}
          ],
          "mark": {"type": "bar", "size": 5, "clip": true},
          "encoding": {
            "x": {"field": "i", "type": "quantitative", "title": null},
            "y": {"field": "lo", "type": "quantitative", "title": null},
            "y2": {"datum": 0},
            "color": {"condition": {"test": "datum.loPrev == null || datum.lo < datum.loPrev", "value": "#008000"}, "value": "#ff0000"}
          }
        },
        {
          "data": {"values": [{"label": "Gator(13,8,5) 0.001725 0.000000"}]},
          "mark": {"type": "text", "align": "left", "baseline": "top", "dy": 2, "fontSize": 9.5, "color": "black"},
          "encoding": {
            "x": {"datum": 0.6, "type": "quantitative"},
            "y": {"datum": 0.002296, "type": "quantitative"},
            "text": {"field": "label"}
          }
        }
      ]
    }
  ]
}
